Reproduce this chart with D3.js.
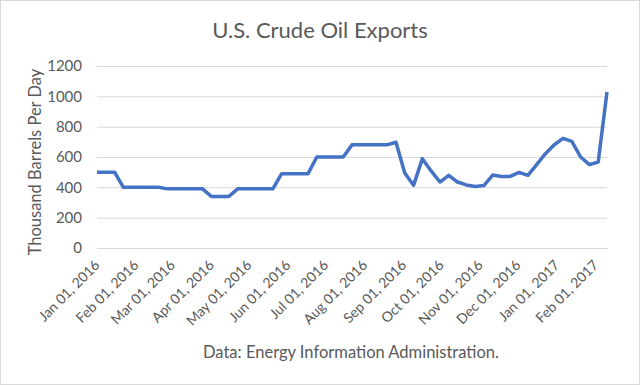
<!DOCTYPE html>
<html>
  <head>
    <meta charset="utf-8">
    <title>U.S. Crude Oil Exports</title>
    <style>
body {
  margin: 0;
  background: #fff;
}
svg text {
  font-family: Lato, "Open Sans", sans-serif;
  fill: #595959;
}
    </style>
  </head>
  <body>
    <div id="chart"></div>
    <script src="https://cdn.jsdelivr.net/npm/d3@7"></script>
    <script>

    // weekly export estimates, starting Fri Jan 01 2016
    var startDate = new Date(2016, 0, 1);
    var exports = [
      500, 500, 500,
      400, 400, 400, 400, 400,
      390, 390, 390, 390, 390,
      340, 340, 340,
      390, 390, 390, 390, 390,
      490, 490, 490, 490,
      600, 600, 600, 600,
      680, 680, 680, 680, 680,
      697, 495, 413, 589, 508, 435, 479, 435, 416, 405, 412,
      481, 472, 472, 499, 479, 550, 622, 681, 723, 703, 600,
      550, 567, 1028
    ];
    var yTicks = [0, 200, 400, 600, 800, 1000, 1200];
    var monthTicks = d3.timeMonth.range(new Date(2016, 0, 1), new Date(2017, 1, 2));

    var data = exports.map(function(v, i) {
      return { date: d3.timeDay.offset(startDate, 7 * i), value: v };
    });

    var width = 640,
        height = 385,
        plot = { left: 97, right: 607, top: 66, bottom: 248 };

    var svg = d3.select('#chart').append('svg')
        .attr('width', width)
        .attr('height', height);

    svg.append('rect')
        .attr('x', 0.5)
        .attr('y', 0.5)
        .attr('width', width - 1)
        .attr('height', height - 1)
        .style('fill', '#fff')
        .style('stroke', '#d9d9d9');

    var x = d3.scaleTime()
        .domain(d3.extent(data, function(d) { return d.date; }))
        .range([plot.left, plot.right]);

    var y = d3.scaleLinear()
        .domain([0, 1200])
        .range([plot.bottom, plot.top]);

    // gridlines + y labels
    var yAxis = d3.axisLeft(y)
        .tickValues(yTicks)
        .tickFormat(d3.format('d'))
        .tickSize(-(plot.right - plot.left))
        .tickPadding(15);

    var gy = svg.append('g')
        .attr('transform', 'translate(' + plot.left + ',0)')
        .call(yAxis);
    gy.select('.domain').remove();
    gy.selectAll('line').style('stroke', '#d9d9d9');
    gy.selectAll('text')
        .style('font-size', '15px')
        .style('fill', '#595959');

    // x axis, rotated date labels
    var xAxis = d3.axisBottom(x)
        .tickValues(monthTicks)
        .tickSize(0)
        .tickFormat(d3.timeFormat('%b %d, %Y'));

    var gx = svg.append('g')
        .attr('transform', 'translate(0,' + plot.bottom + ')')
        .call(xAxis);
    gx.select('.domain').style('stroke', '#d9d9d9');
    gx.selectAll('text')
        .attr('text-anchor', 'end')
        .attr('dy', 0)
        .attr('transform', 'translate(1,16) rotate(-45)')
        .style('font-size', '14px')
        .style('fill', '#595959');

    var line = d3.line()
        .x(function(d) { return x(d.date); })
        .y(function(d) { return y(d.value); });

    svg.append('path')
        .datum(data)
        .attr('d', line)
        .style('fill', 'none')
        .style('stroke', '#4472c4')
        .style('stroke-width', 3.5)
        .style('stroke-linejoin', 'round');

    svg.append('text')
        .attr('x', 320)
        .attr('y', 38)
        .attr('text-anchor', 'middle')
        .style('font-size', '22px')
        .text('U.S. Crude Oil Exports');

    svg.append('text')
        .attr('transform', 'translate(41,' + 162 + ') rotate(-90)')
        .attr('text-anchor', 'middle')
        .style('font-size', '16.5px')
        .text('Thousand Barrels Per Day');

    svg.append('text')
        .attr('x', 351)
        .attr('y', 358)
        .attr('text-anchor', 'middle')
        .style('font-size', '16.5px')
        .text('Data: Energy Information Administration.');

    </script>
  </body>
</html>
